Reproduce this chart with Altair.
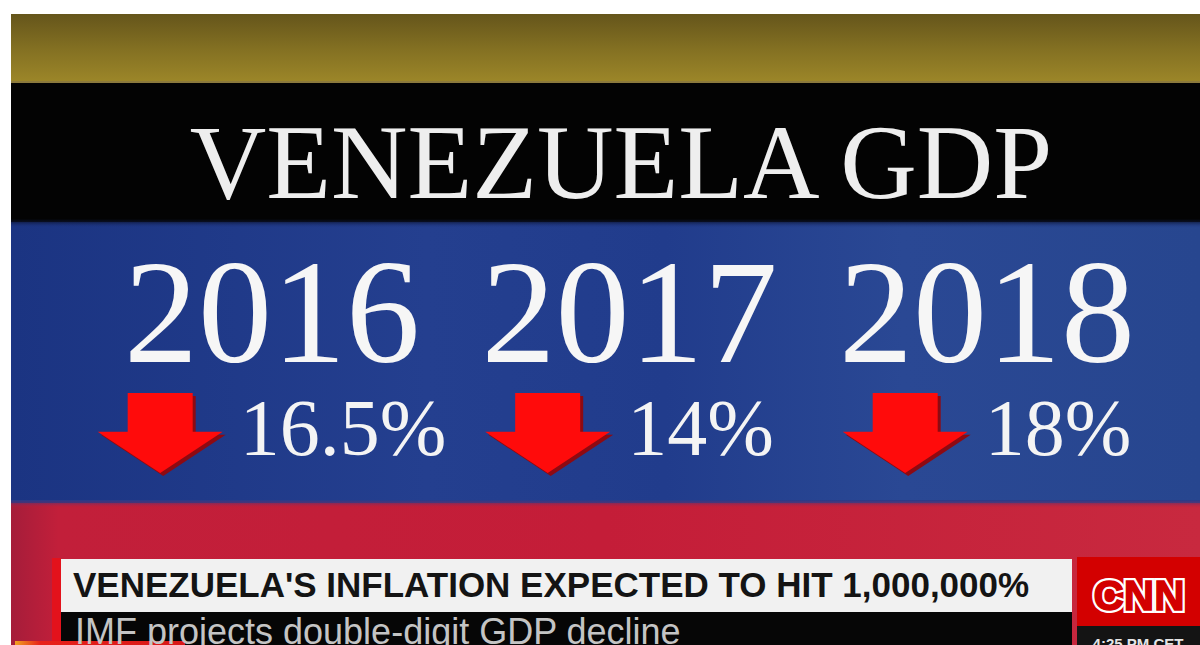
import altair as alt
import pandas as pd

# ---- data ----
years = ["2016", "2017", "2018"]
gdp_decline = [16.5, 14, 18]
title_text = ["VENEZUELA GDP"]
headline = ["VENEZUELA'S INFLATION EXPECTED TO HIT 1,000,000%"]
subline = ["IMF projects double-digit GDP decline"]
network = ["CNN"]
timestamp = ["4:25 PM CET"]

# ---- style ----
W, H = 1200, 645
SERIF = "Liberation Serif"
YEAR_FS = 148
PCT_FS = 80
ARROW_W = 125
GAP = 17

df = pd.DataFrame({"year": years, "decline": gdp_decline})
one = pd.DataFrame({"k": [0]})


def grad(stops, vertical=True):
    return alt.Gradient(
        gradient="linear",
        stops=[alt.GradientStop(color=c, offset=o) for o, c in stops],
        x1=0, y1=0, x2=0 if vertical else 1, y2=1 if vertical else 0,
    )


def rect(x0, x1, y0, y1, fill):
    return alt.Chart(one).mark_rect(fill=fill, strokeWidth=0).encode(
        x=alt.value(x0), x2=alt.value(x1), y=alt.value(y0), y2=alt.value(y1)
    )


def label(data, field, x, y, **kw):
    return alt.Chart(pd.DataFrame({field: data})).mark_text(**kw).encode(
        x=alt.value(x), y=alt.value(y), text=alt.Text(f"{field}:N")
    )


layers = [
    # gold band
    rect(11, W, 14, 83, grad([(0, "#65551b"), (0.5, "#837022"), (1, "#9d8729")])),
    rect(11, W, 81, 83, "#8c7a3c"),
    # black band
    rect(11, W, 83, 222, "#030303"),
    # blue band
    rect(11, W, 222, 505, grad([(0, "#1b3482"), (0.35, "#243f8f"), (0.55, "#213c8c"),
                                 (0.75, "#2a4894"), (1, "#27468f")], vertical=False)),
    rect(11, W, 219, 228, grad([(0, "#030303"), (1, "rgba(31,55,140,0)")])),
    # red band
    rect(11, W, 503, 645, grad([(0, "#a51d3a"), (0.04, "#c21f3a"), (0.5, "#c41d38"),
                                 (1, "#c8293f")], vertical=False)),
    rect(11, W, 500, 508, grad([(0, "rgba(35,60,140,1)"), (1, "rgba(196,30,56,0)")])),
]

# title
layers.append(label(title_text, "t", 621, 198, font=SERIF, fontSize=106,
                    color="#eeeeee", align="center", baseline="alphabetic"))

xscale = alt.Scale(type="point", domain=years, range=[272, 987], padding=0)

years_layer = alt.Chart(df).mark_text(
    font=SERIF, fontSize=YEAR_FS, color="#f6f6f6", align="center", baseline="alphabetic"
).encode(
    x=alt.X("year:N", scale=xscale, axis=None),
    y=alt.value(362),
    text=alt.Text("year:N"),
)
layers.append(years_layer)

pct_base = alt.Chart(df).transform_calculate(
    lab="datum.decline + '%'",
    ndig="length(replace(datum.decline + '', '.', ''))",
    ndot="indexof(datum.decline + '', '.') >= 0 ? 1 : 0",
).transform_calculate(
    tw=f"{PCT_FS} * (0.5 * datum.ndig + 0.25 * datum.ndot + 0.833)",
).transform_calculate(
    gw=f"{ARROW_W} + {GAP} + datum.tw",
).transform_calculate(
    arrow_dx=f"-datum.gw / 2 + {ARROW_W / 2}",
    shadow_dx=f"-datum.gw / 2 + {ARROW_W / 2} + 3",
    text_dx=f"-datum.gw / 2 + {ARROW_W + GAP}",
)

arrow_path = ("M -0.52 -0.64 L 0.52 -0.64 L 0.52 -0.02 L 1 -0.02 "
              "L 0 0.64 L -1 -0.02 L -0.52 -0.02 Z")

shadow = pct_base.mark_point(
    shape=arrow_path, filled=True, color="#8e0a12", size=ARROW_W ** 2,
    strokeWidth=0, opacity=1,
).encode(
    x=alt.X("year:N", scale=xscale, axis=None),
    xOffset=alt.XOffset("shadow_dx:Q", scale=None),
    y=alt.value(436),
)
arrows = pct_base.mark_point(
    shape=arrow_path, filled=True, color="#ff0b0b", size=ARROW_W ** 2,
    strokeWidth=0, opacity=1,
).encode(
    x=alt.X("year:N", scale=xscale, axis=None),
    xOffset=alt.XOffset("arrow_dx:Q", scale=None),
    y=alt.value(433),
)
pct = pct_base.mark_text(
    font=SERIF, fontSize=PCT_FS, color="#f4f4f4", align="left", baseline="alphabetic"
).encode(
    x=alt.X("year:N", scale=xscale, axis=None),
    xOffset=alt.XOffset("text_dx:Q", scale=None),
    y=alt.value(455),
    text=alt.Text("lab:N"),
)
layers += [shadow, arrows, pct]

# lower third banner
layers += [
    rect(52, 61, 558, 645, "#e3121c"),
    rect(61, 1072, 559, 612, "#f1f1f1"),
    rect(61, 1072, 612, 645, "#060606"),
    rect(1077, W, 557, 626, "#d30000"),
    rect(1077, W, 626, 645, "#141414"),
    rect(15, 185, 641, 645, grad([(0, "#f0a020"), (0.15, "#e8201a"), (1, "#d81818")], vertical=False)),
    label(headline, "h", 73, 597, font="Liberation Sans", fontWeight="bold",
          fontSize=35, color="#141414", align="left", baseline="alphabetic"),
    label(subline, "s", 75, 644, font="Liberation Sans", fontSize=36,
          color="#c4c4c4", align="left", baseline="alphabetic"),
    label(network, "n", 1139, 610, font="Liberation Sans", fontWeight="bold", fontSize=42,
          color="#d30000", stroke="#ffffff", strokeWidth=6, align="center", baseline="alphabetic"),
    label(network, "n", 1139, 610, font="Liberation Sans", fontWeight="bold", fontSize=42,
          color="#d30000", stroke="#d30000", strokeWidth=1.5, align="center", baseline="alphabetic"),
    label(timestamp, "ts", 1138, 649, font="Liberation Sans", fontWeight="bold", fontSize=15,
          color="#e6e6e6", align="center", baseline="alphabetic"),
]

chart = alt.layer(*layers).properties(
    width=W, height=H,
    autosize=alt.AutoSizeParams(type="fit", contains="padding"),
    padding=0,
    background="white",
).configure_view(stroke=None)

chart.save("out.html", embed_options={"renderer": "svg", "actions": False})
